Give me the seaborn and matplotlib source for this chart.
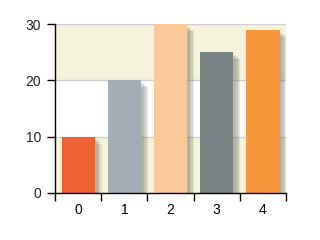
import matplotlib
matplotlib.use("Agg")
import matplotlib.pyplot as plt
import matplotlib.patheffects as pe
import seaborn as sns
import pandas as pd

categories = ["0", "1", "2", "3", "4"]
values = [10, 20, 30, 25, 29]
colors = ["#EE6132", "#A4ADB5", "#FAC99A", "#788383", "#F7963A"]
yticks = [0, 10, 20, 30]

sns.set_style("white")
plt.rcParams['font.family'] = ['Liberation Sans', 'DejaVu Sans']

df = pd.DataFrame({"cat": categories, "val": values})

fig = plt.figure(figsize=(3.2, 2.4), dpi=100)
ax = fig.add_axes([0.172, 0.196, 0.722, 0.704])

# alternating bands
for i, (lo, hi) in enumerate(zip(yticks[:-1], yticks[1:])):
    ax.axhspan(lo, hi, color="#F5F3DC" if i % 2 == 0 else "white", zorder=0, lw=0)
for y in yticks[1:]:
    ax.axhline(y, color="#D0D0D0", lw=1, zorder=0.5)

sns.barplot(data=df, x="cat", y="val", hue="cat", palette=colors, legend=False,
            width=0.72, ax=ax, zorder=2, saturation=1)
shadow = [pe.SimplePatchShadow(offset=(d, -d), shadow_rgbFace="#606050", alpha=0.13)
          for d in (5, 4, 3, 2)]
for cont in ax.containers:
    for p in cont:
        p.set_path_effects(shadow + [pe.Normal()])
        p.set_linewidth(0)

ax.set_xlim(-0.5, 4.5)
ax.set_ylim(0, 30)
ax.set_yticks(yticks)
ax.set_xlabel("")
ax.set_ylabel("")
ax.set_xticks(range(len(categories)))
ax.set_xticklabels(categories)
ax.set_xticks([i - 0.5 for i in range(len(categories) + 1)], minor=True)
ax.tick_params(axis="x", which="major", bottom=True, length=0, labelsize=10, pad=7, colors="black")
ax.tick_params(axis="x", which="minor", bottom=True, length=6, width=1, color="black", direction="out")
ax.tick_params(axis="y", left=True, length=6, width=1, color="black", labelsize=10, pad=4, direction="out")
sns.despine(ax=ax, top=True, right=True)
for s in ("left", "bottom"):
    ax.spines[s].set_color("black")
    ax.spines[s].set_linewidth(1)
    ax.spines[s].set_zorder(5)

fig.savefig("out.png", dpi=100)
